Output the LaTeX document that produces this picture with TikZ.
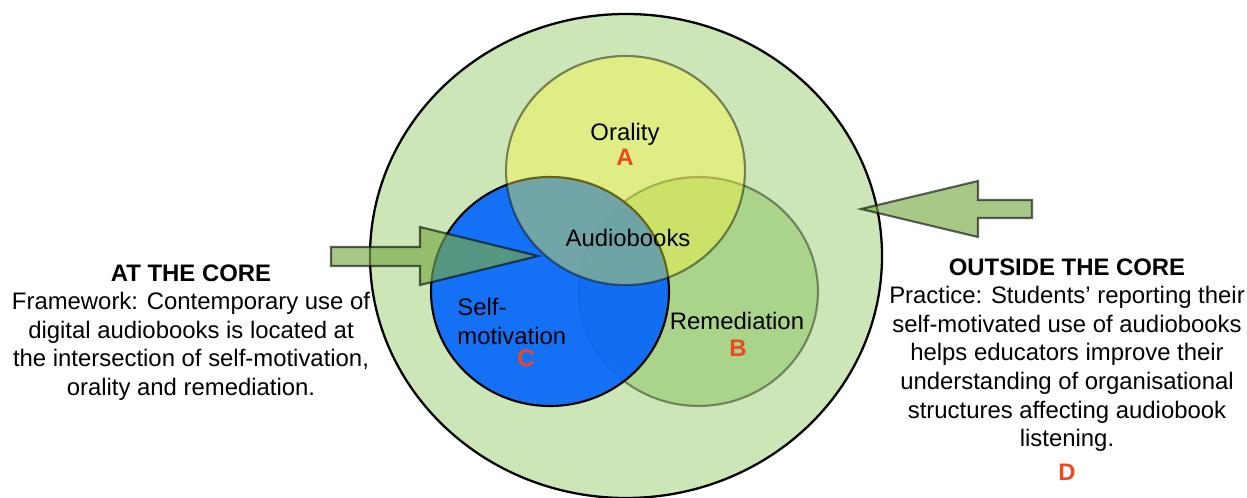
\documentclass[tikz,border=0pt]{standalone}
\usepackage{fontspec}
\setmainfont{Liberation Sans}
\usepackage{tikz}

\definecolor{coregreen}{RGB}{204,230,184}
\definecolor{oralyellow}{RGB}{254,245,54}
\definecolor{remedgreen}{RGB}{169,212,138}
\definecolor{selfblue}{RGB}{5,102,250}
\definecolor{arrowgreen}{RGB}{121,171,71}
\definecolor{letterred}{RGB}{240,72,30}

\tikzset{
  lbl/.style={font=\fontsize{13.6}{16.3}\selectfont, inner sep=0pt},
  letter/.style={lbl, font=\fontsize{13.6}{16.3}\selectfont\bfseries, text=letterred},
  blockarrow/.style={fill=arrowgreen, fill opacity=0.65, draw=black, draw opacity=0.6,
    line width=1.2pt, line join=miter}
}

\begin{document}
\begin{tikzpicture}[x=0.02cm,y=0.02cm]
  \useasboundingbox (0,0) rectangle (1247,497);
  % outer field (outside the core)
  \draw[fill=coregreen, line width=1.3pt] (626,241) ellipse [x radius=256, y radius=242];
  % the three sets: remediation at the bottom, then self-motivation, orality on top
  \draw[fill=remedgreen, draw=black, draw opacity=0.4, line width=1.2pt]
    (698.5,205.5) ellipse [x radius=119.5, y radius=114.5];
  \draw[fill=selfblue, fill opacity=0.92, line width=1.2pt]
    (550,205.5) ellipse [x radius=119, y radius=114.5];
  \draw[fill=oralyellow, fill opacity=0.4, draw=black, draw opacity=0.45, line width=1.2pt]
    (625.5,326.5) ellipse [x radius=119.5, y radius=114.5];
  % block arrows
  \draw[blockarrow] (331,250) -- (420,250) -- (420,270) -- (538,241) -- (420,212)
    -- (420,231) -- (331,231) -- cycle;
  \draw[blockarrow] (1032,297) -- (978,297) -- (978,316) -- (861,288) -- (978,260)
    -- (978,279) -- (1032,279) -- cycle;
  % set labels
  \node[lbl, anchor=base] (orality) at (625,356) {Orality};
  \node[letter, anchor=base] (labA) at (625,331) {A};
  \node[lbl, anchor=base] (audio) at (628,250) {Audiobooks};
  \node[lbl, anchor=north west, align=left] (selfmot) at (457,199) {Self-\\motivation};
  \node[letter, anchor=base] (labC) at (526,130) {C};
  \node[lbl, anchor=base] (remed) at (737,167) {Remediation};
  \node[letter, anchor=base] (labB) at (738,140) {B};
  % side texts
  \node[lbl, anchor=north, align=center] (core) at (191,233)
    {\textbf{AT THE CORE}\\Framework: Contemporary use of\\digital audiobooks is located at\\
     the intersection of self-motivation,\\orality and remediation.};
  \node[lbl, anchor=north, align=center] (outside) at (1067,239)
    {\textbf{OUTSIDE THE CORE}\\Practice: Students’ reporting their\\self-motivated use of audiobooks\\
     helps educators improve their\\understanding of organisational\\structures affecting audiobook\\
     listening.\\[3pt]\textcolor{letterred}{\textbf{D}}};
\end{tikzpicture}
\end{document}
